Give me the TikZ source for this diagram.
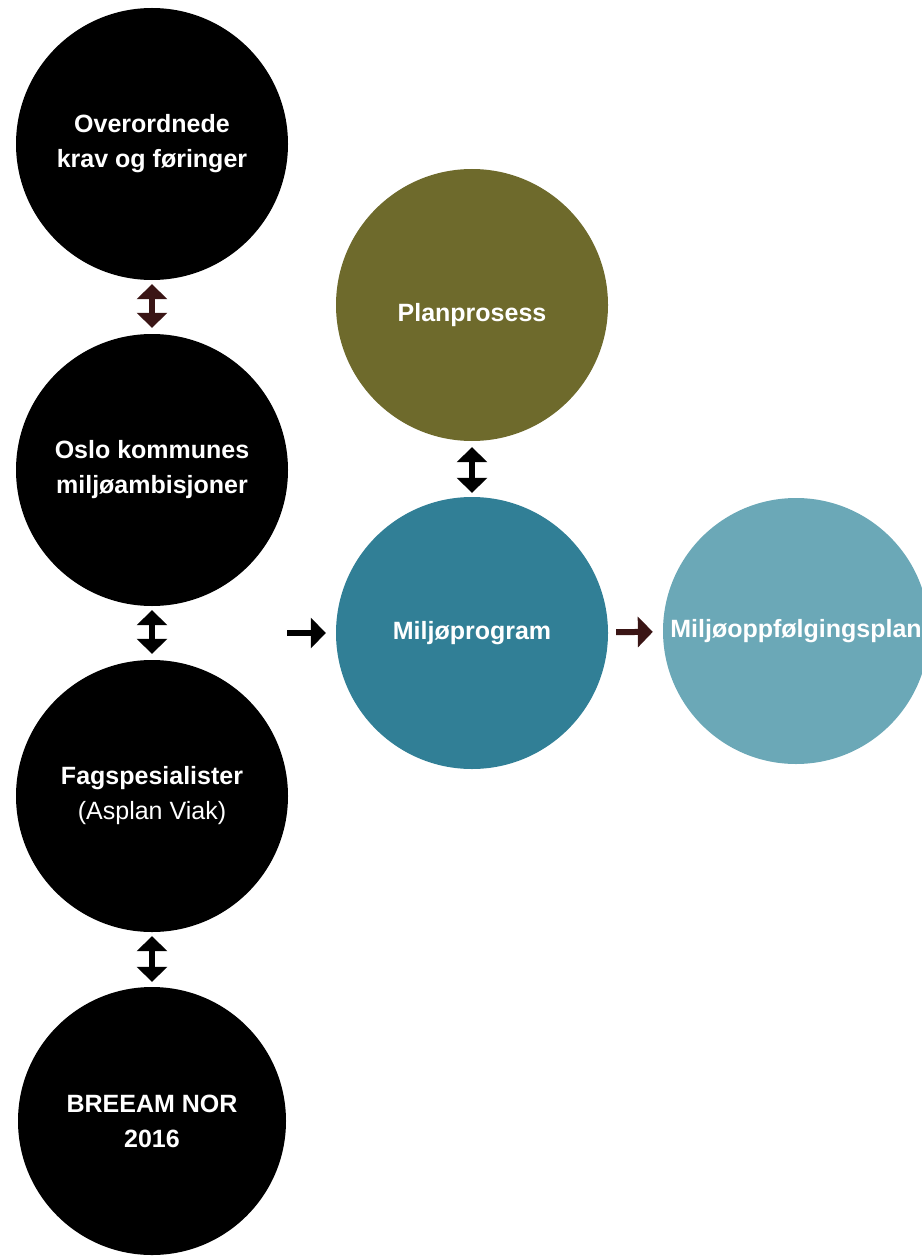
\documentclass[tikz,border=0pt]{standalone}
\usepackage{fontspec}
\setmainfont{Liberation Sans}
\usetikzlibrary{arrows.meta}
\definecolor{olive}{HTML}{6E6A2C}
\definecolor{teal}{HTML}{317F96}
\definecolor{lightteal}{HTML}{6BA8B7}
\definecolor{darkbrown}{HTML}{3A1515}
\begin{document}
\begin{tikzpicture}[x=1pt, y=-1pt,
    >={Triangle[length=15pt, width=30pt]},
    ring/.style={circle, fill=#1, minimum size=272pt, inner sep=0pt, text=white, align=center,
        font=\bfseries\fontsize{25}{35}\selectfont},
    link/.style={line width=6pt, #1},
    link/.default=black]
\useasboundingbox (0,0) rectangle (921,1257);
\node[ring=black](krav) at (152,144) {Overordnede\\krav og føringer};
\node[ring=black](oslo) at (152,470) {Oslo kommunes\\miljøambisjoner};
\node[ring=black](fag) at (152,796) {Fagspesialister\\{\mdseries(Asplan Viak)}};
\node[ring=black, minimum size=268pt](breeam) at (152,1121) {BREEAM NOR\\2016};
\node[ring=olive, text height=32pt, text depth=0pt](plan) at (472,305) {Planprosess};
\node[ring=teal](prog) at (472,633) {Miljøprogram};
\node[ring=lightteal, minimum size=266pt](oppf) at (796,631) {Miljøoppfølgingsplan};
\coordinate (inn) at (287,633);
\draw[link=darkbrown, <->, shorten <=4pt, shorten >=6pt](krav)--(oslo);
\draw[link, <->, shorten <=4pt, shorten >=6pt](oslo)--(fag);
\draw[link, <->, shorten <=4pt, shorten >=5pt](fag)--(breeam);
\draw[link, <->, shorten <=6pt, shorten >=4pt](plan)--(prog);
\draw[link, ->, shorten >=10pt](inn)--(prog);
\draw[link=darkbrown, ->, shorten <=8pt, shorten >=10pt](prog)--(oppf);
\end{tikzpicture}
\end{document}
